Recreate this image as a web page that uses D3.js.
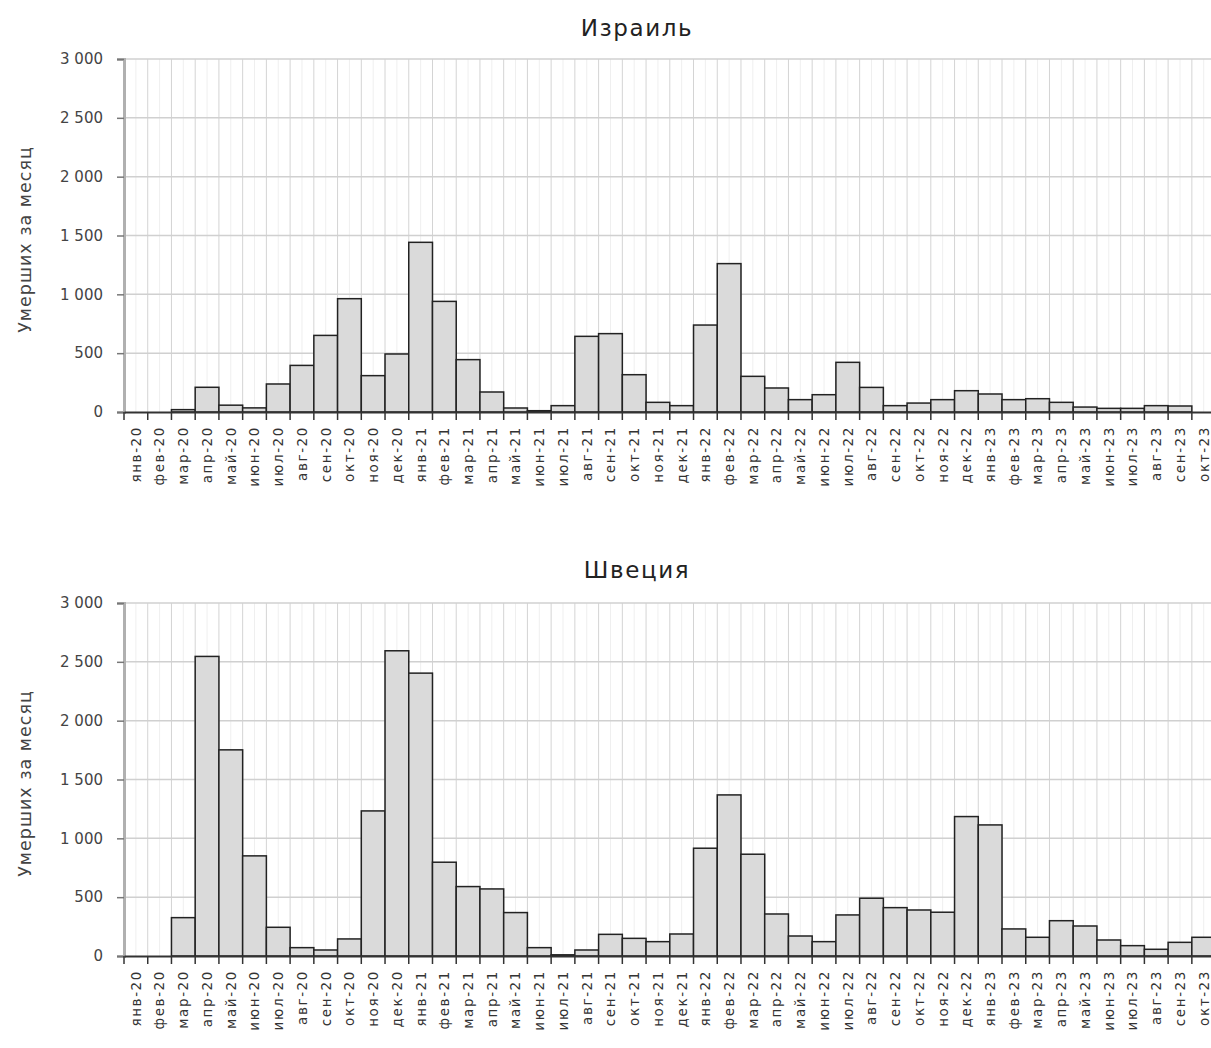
<!DOCTYPE html>
<html><head><meta charset="utf-8">
<script src="https://cdn.jsdelivr.net/npm/d3@7"></script>
<style>body{margin:0;background:#fff;} svg{display:block;}</style>
</head><body>
<svg id="c" width="1211" height="1048"></svg>
<script>
const categories = ["янв-20","фев-20","мар-20","апр-20","май-20","июн-20","июл-20","авг-20","сен-20","окт-20","ноя-20","дек-20",
"янв-21","фев-21","мар-21","апр-21","май-21","июн-21","июл-21","авг-21","сен-21","окт-21","ноя-21","дек-21",
"янв-22","фев-22","мар-22","апр-22","май-22","июн-22","июл-22","авг-22","сен-22","окт-22","ноя-22","дек-22",
"янв-23","фев-23","мар-23","апр-23","май-23","июн-23","июл-23","авг-23","сен-23","окт-23"];
const israel = [0,0,20,210,58,35,238,396,651,963,309,493,
1442,940,445,170,34,11,54,643,666,317,82,54,
739,1261,303,204,105,147,422,209,54,76,105,181,
153,105,113,82,42,31,31,54,51,0];
const sweden = [0,0,326,2546,1752,851,244,71,51,145,1233,2594,
2404,797,590,570,369,71,10,51,184,150,122,187,
916,1369,865,357,170,122,349,491,411,391,372,1185,
1114,230,159,300,255,136,88,57,116,159];
const yTicks = [0,500,1000,1500,2000,2500,3000];
const titles = ["Израиль","Швеция"];
const yTitle = "Умерших за месяц";

const svg = d3.select("#c");
const font = "'DejaVu Sans', 'Open Sans', sans-serif";
const left = 124, band = 23.73;
const right = left + band*categories.length;
const fmt = v => d3.format(",")(v).replace(/,/g, " ");

function drawChart(data, title, top, bottom, titleY){
  const g = svg.append("g");
  const x = d3.scaleBand().domain(categories).range([left,right]).paddingInner(0).paddingOuter(0);
  const y = d3.scaleLinear().domain([0,3000]).range([bottom,top]);
  // minor vertical grid (band centers)
  g.append("g").selectAll("line").data(categories).join("line")
    .attr("x1",d=>x(d)+x.bandwidth()/2).attr("x2",d=>x(d)+x.bandwidth()/2)
    .attr("y1",top).attr("y2",bottom).attr("stroke","#efefef").attr("stroke-width",1);
  // major vertical grid (band edges)
  g.append("g").selectAll("line").data(categories.slice(1)).join("line")
    .attr("x1",d=>x(d)).attr("x2",d=>x(d))
    .attr("y1",top).attr("y2",bottom).attr("stroke","#d4d4d4").attr("stroke-width",1);
  // horizontal grid
  g.append("g").selectAll("line").data(yTicks.slice(1)).join("line")
    .attr("x1",left).attr("x2",right).attr("y1",d=>y(d)).attr("y2",d=>y(d))
    .attr("stroke","#d0d0d0").attr("stroke-width",1.5);
  // bars
  g.append("g").selectAll("rect").data(categories).join("rect")
    .attr("x",d=>x(d)).attr("width",x.bandwidth())
    .attr("y",(d,i)=>y(data[i])).attr("height",(d,i)=>bottom-y(data[i]))
    .attr("fill","#dadada").attr("stroke","#222").attr("stroke-width",1.5);
  // y axis
  const ya = d3.axisLeft(y).tickValues(yTicks).tickSize(7).tickPadding(14).tickFormat(fmt);
  const yg = g.append("g").attr("transform",`translate(${left},0)`).call(ya);
  yg.select(".domain").attr("stroke","#b0b0b0").attr("stroke-width",3);
  yg.selectAll(".tick line").attr("stroke","#777").attr("stroke-width",1.5);
  yg.selectAll("text").attr("font-family",font).attr("font-size",15).attr("fill","#444");
  // x axis
  const xa = d3.axisBottom(x).tickSize(0).tickPadding(0);
  const xg = g.append("g").attr("transform",`translate(0,${bottom})`).call(xa);
  xg.select(".domain").attr("stroke","#333").attr("stroke-width",2);
  xg.selectAll(".tick text").attr("font-family",font).attr("font-size",13.5).attr("fill","#333")
    .attr("letter-spacing","1.6px")
    .attr("transform","rotate(-90)").attr("text-anchor","end").attr("x",-14).attr("y",0).attr("dy","0.36em");
  // x tick marks at band edges
  g.append("g").selectAll("line").data(categories.concat(["__end"])).join("line")
    .attr("x1",(d,i)=>left+i*band).attr("x2",(d,i)=>left+i*band)
    .attr("y1",bottom).attr("y2",bottom+8).attr("stroke","#333").attr("stroke-width",1.5);
  // title
  svg.append("text").attr("x",637).attr("y",titleY).attr("text-anchor","middle")
    .attr("font-family",font).attr("font-size",23).attr("letter-spacing","1.6px").attr("fill","#222").text(title);
  // y title
  svg.append("text").attr("transform",`translate(31,${(top+bottom)/2+4}) rotate(-90)`)
    .attr("text-anchor","middle").attr("font-family",font).attr("font-size",17.5).attr("fill","#444")
    .attr("letter-spacing","1px").text(yTitle);
}
drawChart(israel, titles[0], 59, 412, 36);
drawChart(sweden, titles[1], 603, 956, 578);
</script>
</body></html>
